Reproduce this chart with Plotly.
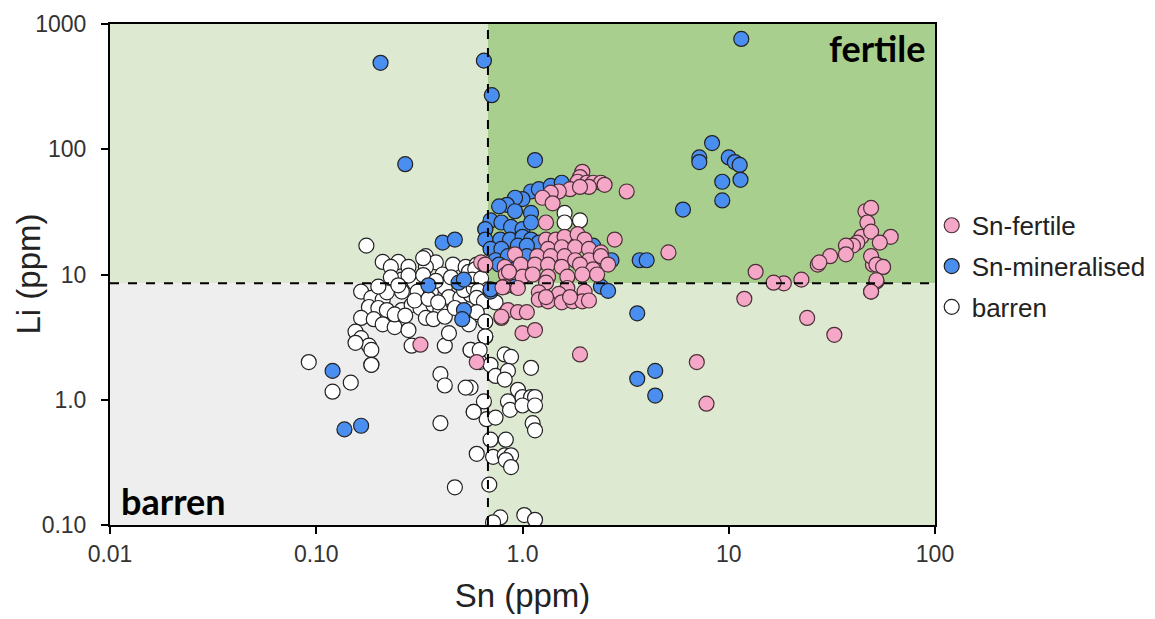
import plotly.graph_objects as go

# ---------------------------------------------------------
# Data (Sn, Li in ppm)
# ---------------------------------------------------------

SN_THRESHOLD = 0.68
LI_THRESHOLD = 8.5

fertile_sn = [
    1.95, 1.9, 1.85, 2.05, 2.2, 2.4, 2.5, 1.7, 1.5, 1.37, 1.25, 1.4, 2.1, 1.9, 3.2, 1.3, 2.8,
    1.3, 1.45, 1.6, 1.85, 2.0, 1.33, 1.55, 1.8, 2.1, 2.4, 0.92, 1.18, 1.37, 1.6, 1.8, 2.1, 2.4,
    0.63, 0.66, 0.82, 0.98, 1.15, 1.33, 1.55, 1.9, 2.2, 2.6, 0.83, 1.0, 1.12, 1.33, 1.65, 1.95,
    2.3, 0.82, 0.95, 1.3, 1.65, 2.0, 1.2, 1.5, 1.2, 1.33, 1.55, 1.75, 1.95, 2.1, 1.7, 1.3,
    0.85, 0.79, 0.95, 1.05, 1.0, 1.15, 1.9, 0.6, 0.32, 0.8, 0.79, 0.86,
    13.5, 11.9, 18.5, 22.5, 24, 32.5, 27, 52, 49, 56, 50, 7.0, 7.8, 5.1, 16.5,
    46, 49, 47, 44, 49, 61, 54, 42, 40, 37, 37, 31, 27.5, 49, 52, 56, 52, 49,
]
fertile_li = [
    66, 60, 55, 54, 54, 54, 52, 48, 46, 45, 41, 37, 50, 50, 46, 26, 19,
    19, 19, 20, 21, 19, 16, 16.5, 16.5, 16, 15, 14.5, 14, 14, 14, 13, 13, 14,
    12.5, 12, 11.5, 12, 12, 12, 11.5, 12, 11, 12, 10, 9.6, 10, 9.6, 9.6, 10,
    10, 8, 7.8, 8.6, 7.8, 7.3, 7.2, 7, 6.3, 6.1, 6, 6.1, 6.1, 6.2, 6.6, 6.6,
    5.2, 4.5, 5, 5, 3.4, 3.6, 2.3, 2.0, 2.75, 7.9, 4.6, 10.5,
    10.5, 6.4, 8.5, 9.1, 4.5, 3.3, 12, 8.8, 7.3, 11.5, 12, 2.0, 0.93, 15, 8.6,
    32, 34, 26, 20, 22, 20, 18, 18, 17, 17, 14.5, 14, 12.5, 14, 12, 11.5, 9, 7.3,
]

mineralised_sn = [
    0.205, 0.65, 0.71, 11.5, 0.27, 1.15, 8.3, 7.2, 7.2, 10.0, 10.7, 11.3, 9.3, 11.4, 9.3, 6.0,
    3.7, 4.0, 3.6, 4.4, 3.6, 4.4, 0.12, 0.137, 0.165,
    0.35, 0.49, 0.52, 0.51, 0.70, 0.41, 0.47, 0.52, 0.70, 0.66,
    1.1, 1.2, 1.37, 1.55, 1.0, 0.92, 0.84, 0.77, 1.1, 0.92, 0.70, 0.79, 0.88, 1.0, 1.1,
    0.66, 0.66, 0.78, 0.87, 1.0, 1.1, 1.2, 0.70, 0.79, 0.95, 1.05, 0.74, 0.85, 1.05,
    2.2, 2.4, 2.7, 0.77, 0.92, 1.15, 0.70, 0.92, 2.4, 2.6, 0.65,
]
mineralised_li = [
    490, 510, 270, 760, 76, 82, 112, 86, 79, 86, 79, 75, 55, 57, 39, 33,
    13, 13, 4.9, 1.7, 1.47, 1.08, 1.7, 0.58, 0.62,
    8.2, 8.6, 5.2, 4.4, 7.3, 18, 19, 9.1, 17, 23,
    46, 48, 51, 54, 40, 41, 36, 35, 31, 32, 27, 26, 24, 23, 26,
    23, 19, 19, 19, 20, 19, 18, 16, 16, 17, 17, 13, 14, 14,
    17, 14, 13, 12, 11, 12, 7.6, 8, 8, 7.4, 12,
]

barren_sn = [
    0.175, 0.21, 0.25, 0.23, 0.28, 0.34, 0.38, 0.34, 0.41, 0.46, 0.53, 0.26, 0.30, 0.31, 0.36,
    0.42, 0.44, 0.50, 0.56, 0.63, 0.165, 0.185, 0.21, 0.22, 0.26, 0.18, 0.20, 0.22, 0.26, 0.29,
    0.32, 0.37, 0.40, 0.34, 0.37, 0.42, 0.165, 0.19, 0.21, 0.24, 0.28, 0.155, 0.165, 0.18,
    0.155, 0.185, 0.29, 0.42, 0.44, 0.185, 0.56, 0.66, 0.62, 0.33, 0.60,
    0.23, 0.28, 0.33, 0.38, 0.45, 0.55, 0.30, 0.35, 0.39, 0.47, 0.52, 0.58, 0.25, 0.20,
    0.24, 0.27, 0.60, 0.55, 1.6, 1.6, 1.9, 0.59, 0.57, 0.63, 0.68, 0.61,
    0.6, 0.65, 0.74, 0.6, 0.66, 0.66, 0.56, 0.62, 0.82, 0.88, 0.7, 0.74, 0.85, 0.82, 1.1,
    0.56, 0.65, 0.58, 0.67, 0.74, 0.85, 0.87, 0.95, 1.0, 1.1, 1.15, 1.0, 1.15, 1.12, 1.15,
    0.7, 0.83, 0.6, 0.72, 0.82, 0.88, 0.83, 0.88, 0.69, 0.78, 0.72, 1.02, 1.15,
    0.092, 0.12, 0.147, 0.185, 0.40, 0.47, 0.4, 0.42, 0.53, 0.58,
]
barren_li = [
    17, 12.6, 12.6, 11.5, 11.5, 14, 12.5, 11.5, 10, 12, 11.5, 9.1, 8.6, 7.3, 7.3,
    7.9, 6.6, 6.5, 6.9, 8, 7.3, 6.5, 6.3, 7.2, 7.3, 5.5, 5.4, 5.2, 5.2, 5.7,
    5.4, 5.7, 5.2, 4.5, 4.4, 4.6, 4.5, 4.4, 4.0, 3.8, 3.6, 3.5, 3.1, 2.7,
    2.85, 2.5, 2.7, 2.7, 3.4, 1.9, 2.5, 3.2, 2.0, 13.5, 12,
    9.5, 9.8, 9.9, 8.9, 9.5, 10.5, 6.2, 6.4, 6.0, 5.4, 7.5, 7.8, 8.2, 8.0,
    4.8, 4.7, 4.8, 4.0, 31, 26, 27, 11, 9.1, 9.3, 7.6, 7.4,
    6.5, 6.1, 6.0, 5, 4.2, 3.2, 2.5, 2.5, 2.3, 2.2, 1.9, 1.55, 1.7, 1.45, 1.8,
    1.25, 0.97, 0.8, 0.7, 0.72, 0.97, 0.83, 1.2, 1.05, 1.05, 1.05, 0.9, 0.9, 0.65, 0.57,
    0.48, 0.48, 0.37, 0.35, 0.36, 0.36, 0.33, 0.29, 0.21, 0.115, 0.105, 0.12, 0.11,
    2.0, 1.16, 1.37, 1.9, 0.65, 0.2, 1.6, 1.3, 1.25, 0.8,
]

x_tickvals = [0.01, 0.1, 1, 10, 100]
x_ticktext = ["0.01", "0.10", "1.0", "10", "100"]
y_tickvals = [0.1, 1, 10, 100, 1000]
y_ticktext = ["0.10", "1.0", "10", "100", "1000"]

X_MIN, X_MAX = 0.01, 100
Y_MIN, Y_MAX = 0.1, 1000

LIGHT_GREEN = "#dde9d1"
DARK_GREEN = "#a9cf8e"
GREY = "#eeeeee"

# ---------------------------------------------------------
# Figure
# ---------------------------------------------------------

fig = go.Figure()

marker_line = dict(color="#222222", width=1.2)

fig.add_trace(go.Scatter(
    x=barren_sn, y=barren_li, mode="markers", name="barren",
    legendgroup="c", legendrank=3,
    marker=dict(size=15, color="white", line=marker_line),
))
fig.add_trace(go.Scatter(
    x=mineralised_sn, y=mineralised_li, mode="markers", name="Sn-mineralised",
    legendgroup="b", legendrank=2,
    marker=dict(size=15, color="#4a8ef0", line=marker_line),
))
fig.add_trace(go.Scatter(
    x=fertile_sn, y=fertile_li, mode="markers", name="Sn-fertile",
    legendgroup="a", legendrank=1,
    marker=dict(size=15, color="#f4a7c7", line=dict(color="#4a3036", width=1.2)),
))

# Quadrant backgrounds
quadrants = [
    (X_MIN, SN_THRESHOLD, LI_THRESHOLD, Y_MAX, LIGHT_GREEN),
    (SN_THRESHOLD, X_MAX, LI_THRESHOLD, Y_MAX, DARK_GREEN),
    (X_MIN, SN_THRESHOLD, Y_MIN, LI_THRESHOLD, GREY),
    (SN_THRESHOLD, X_MAX, Y_MIN, LI_THRESHOLD, LIGHT_GREEN),
]
for x0, x1, y0, y1, colour in quadrants:
    fig.add_shape(type="rect", xref="x", yref="y", x0=x0, x1=x1, y0=y0, y1=y1,
                  fillcolor=colour, line=dict(width=0), layer="below")

# Threshold lines
fig.add_shape(type="line", xref="x", yref="y", x0=SN_THRESHOLD, x1=SN_THRESHOLD,
              y0=Y_MIN, y1=Y_MAX, line=dict(color="black", width=2, dash="dash"))
fig.add_shape(type="line", xref="x", yref="y", x0=X_MIN, x1=X_MAX,
              y0=LI_THRESHOLD, y1=LI_THRESHOLD, line=dict(color="black", width=2, dash="dash"))

fig.add_annotation(text="<b>fertile</b>", xref="x domain", yref="y domain", x=1, y=1,
                   xanchor="right", yanchor="top", xshift=-8, yshift=0, showarrow=False,
                   font=dict(family="Lato", size=36, color="black"))
fig.add_annotation(text="<b>barren</b>", xref="x domain", yref="y domain", x=0, y=0,
                   xanchor="left", yanchor="bottom", xshift=9, yshift=0, showarrow=False,
                   font=dict(family="Lato", size=36, color="black"))

# y-axis title as an annotation so it can sit a little closer to the tick labels
fig.add_annotation(text="Li (ppm)", xref="paper", yref="paper", x=0, y=0.5,
                   xanchor="center", yanchor="middle", xshift=-82, textangle=-90,
                   showarrow=False,
                   font=dict(family="Liberation Sans", size=33, color="#222222"))

axis_common = dict(
    type="log", showgrid=False, zeroline=False, automargin=False,
    showline=True, linecolor="black", linewidth=2, mirror=True,
    ticks="outside", ticklen=7, tickwidth=1.5, tickcolor="black",
    tickfont=dict(family="Liberation Sans", size=23, color="#333333"),
)

fig.update_xaxes(
    **axis_common, range=[-2, 2], tickvals=x_tickvals, ticktext=x_ticktext,
    title=dict(text="Sn (ppm)", font=dict(family="Liberation Sans", size=33, color="#222222"),
               standoff=18),
)
fig.update_yaxes(
    **axis_common, range=[-1, 3], tickvals=y_tickvals, ticktext=y_ticktext,
    ticklabelstandoff=10,
)

# The page adds an 8 px body margin, so the margins are trimmed to match.
fig.update_layout(
    width=1155, height=619,
    margin=dict(l=102, r=223, t=16, b=102),
    plot_bgcolor="white", paper_bgcolor="white",
    legend=dict(x=0.996, y=0.645, xanchor="left", yanchor="top",
                font=dict(family="Liberation Sans", size=26, color="#222222"),
                tracegroupgap=4, itemwidth=30, bgcolor="rgba(0,0,0,0)"),
)

fig.write_html("out.html")
